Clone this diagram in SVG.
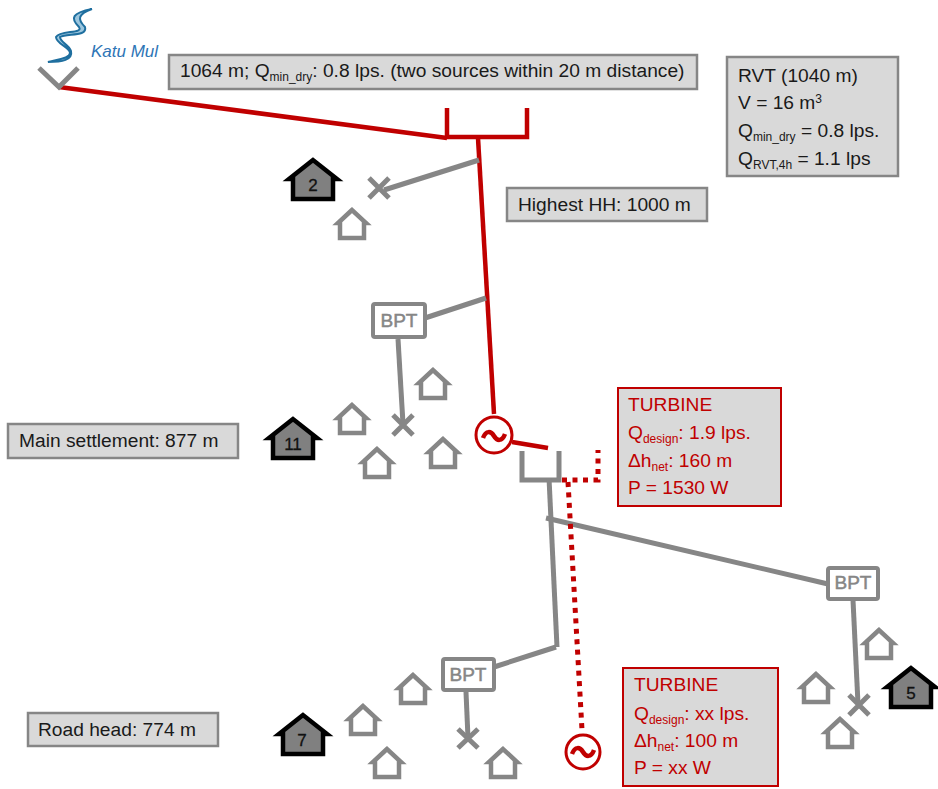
<svg xmlns="http://www.w3.org/2000/svg" width="938" height="789" viewBox="0 0 938 789">
<style>
text{font-family:"Liberation Sans",Arial,sans-serif;font-size:19.2px;fill:#1a1a1a}
.box{fill:#d9d9d9;stroke:#868686;stroke-width:2.5}
.rbox{fill:#d9d9d9;stroke:#c00000;stroke-width:2}
.red text,.red tspan{fill:#c00000}
.s{font-size:12px}
.r{fill:none;stroke:#c00000;stroke-width:4.5}
.rd{fill:none;stroke:#c00000;stroke-width:5;stroke-dasharray:5 5.5}
.g{fill:none;stroke:#868686;stroke-width:5}
.h{fill:#fff;stroke:#868686;stroke-width:4.5}
.d{fill:#808080;stroke:#000;stroke-width:4.5}
.num{font-size:17px;text-anchor:middle;fill:#111;stroke:#111;stroke-width:.3}
.bpt{fill:#fff;stroke:#868686;stroke-width:4}
.bt{font-size:19px;fill:#868686;stroke:#868686;stroke-width:.5;text-anchor:middle}
.gen{fill:#fff;stroke:#c00000;stroke-width:3}
</style>
<defs>
<path id="house" d="M0,3 L-14,16 H-12 V31 H12 V16 H14 Z"/>
<path id="dark" d="M0,3 L-24,22 H-20 V42 H20 V22 H24 Z"/>
<path id="wave" d="M-11,2 C-8,-6 -3,-5 0,0 C3,5 8,6 11,-2"/>
</defs>
<g id="connectors">
<path class="r" d="M59,87 L447,138"/>
<path class="r" d="M447,108 V137 H527 V108"/>
<path class="r" d="M478,138 L494,414"/>
<path class="r" d="M512,442 L548,448"/>
<path class="g" d="M479,160 L384,190"/>
<path class="g" d="M486,298 L425,318"/>
<path class="g" d="M398,339 L403,424"/>
<path class="g" d="M522,451 V480 H559 V451"/>
<path class="g" d="M549,478 L557,647"/>
<path class="g" d="M546,518 L828,584"/>
<path class="g" d="M556,647 L494,667"/>
<path class="g" d="M466,692 L468,738"/>
<path class="g" d="M853,600 L858,704"/>
<path class="rd" d="M562,480 H598 V450"/>
<path class="rd" d="M568,482 L582,730"/>
</g>
<g id="intake"><path d="M39,68 L59,87 L78,68" fill="none" stroke="#868686" stroke-width="5"/></g>
<g id="river"><path d="M92,9 C72,13 70,18 79,27 C84,34 60,30 56,37 C56,44 70,47 70,53 C70,59 54,60 48,62 C62,62 73,60 71,51 C69,45 60,42 60,37 C66,33 88,37 85,27 C77,19 78,14 92,9 Z" fill="#9cc6de" stroke="#1f6f9f" stroke-width="2"/></g>
<g id="label-katu"><text x="91" y="57" style="font-style:italic;font-size:17px;fill:#2e75b6">Katu Mul</text></g>
<g id="label-source"><rect class="box" x="169" y="55" width="528" height="34"/><text x="180" y="77">1064 m; Q<tspan class="s" dy="4">min_dry</tspan><tspan dy="-4">:  0.8 lps. (two sources within 20 m distance)</tspan></text></g>
<g id="label-rvt"><rect class="box" x="727" y="57" width="171" height="119"/>
<text x="738" y="82">RVT (1040 m)</text>
<text x="738" y="109">V = 16 m<tspan font-size="12" dy="-6">3</tspan></text>
<text x="738" y="137">Q<tspan class="s" dy="4">min_dry</tspan><tspan dy="-4"> = 0.8 lps.</tspan></text>
<text x="738" y="165">Q<tspan class="s" dy="4">RVT,4h</tspan><tspan dy="-4"> = 1.1 lps</tspan></text></g>
<g id="label-hh"><rect class="box" x="507" y="188" width="200" height="33"/><text x="518" y="211">Highest HH: 1000 m</text></g>
<g id="label-main"><rect class="box" x="8" y="424" width="230" height="34"/><text x="19" y="447">Main settlement: 877 m</text></g>
<g id="label-road"><rect class="box" x="28" y="713" width="190" height="33"/><text x="38" y="736">Road head: 774 m</text></g>
<g id="turbine1" class="red"><rect class="rbox" x="618" y="388" width="163" height="118"/>
<text x="628" y="411">TURBINE</text>
<text x="628" y="439">Q<tspan class="s" dy="4">design</tspan><tspan dy="-4">:  1.9 lps.</tspan></text>
<text x="628" y="467">Δh<tspan class="s" dy="4">net</tspan><tspan dy="-4">: 160 m</tspan></text>
<text x="628" y="494">P = 1530 W</text></g>
<g id="turbine2" class="red"><rect class="rbox" x="623" y="668" width="155" height="118"/>
<text x="634" y="691">TURBINE</text>
<text x="634" y="720">Q<tspan class="s" dy="4">design</tspan><tspan dy="-4">:  xx lps.</tspan></text>
<text x="634" y="747">Δh<tspan class="s" dy="4">net</tspan><tspan dy="-4">: 100 m</tspan></text>
<text x="634" y="774">P = xx W</text></g>
<g id="gen1"><circle class="gen" cx="494" cy="435" r="18"/><use href="#wave" transform="translate(494,436)" class="r"/></g>
<g id="gen2"><circle class="gen" cx="583" cy="752" r="17"/><use href="#wave" transform="translate(583,752)" class="r"/></g>
<g id="bpt1"><rect class="bpt" x="373" y="304" width="52" height="33" rx="2"/><text class="bt" x="399" y="327">BPT</text></g>
<g id="bpt2"><rect class="bpt" x="443" y="659" width="51" height="31" rx="2"/><text class="bt" x="468" y="681">BPT</text></g>
<g id="bpt3"><rect class="bpt" x="828" y="568" width="50" height="31" rx="2"/><text class="bt" x="853" y="589">BPT</text></g>
<g id="x1"><path class="g" d="M369,178 L389,198 M389,178 L369,198"/></g>
<g id="x2"><path class="g" d="M393,415 L413,435 M413,415 L393,435"/></g>
<g id="x3"><path class="g" d="M458,729 L478,748 M478,729 L458,748"/></g>
<g id="x4"><path class="g" d="M849,695 L869,715 M869,695 L849,715"/></g>
<g id="h1"><use href="#house" class="h" x="352" y="207"/></g>
<g id="h2"><use href="#house" class="h" x="433" y="367"/></g>
<g id="h3"><use href="#house" class="h" x="352" y="402"/></g>
<g id="h4"><use href="#house" class="h" x="377" y="446"/></g>
<g id="h5"><use href="#house" class="h" x="443" y="436"/></g>
<g id="h6"><use href="#house" class="h" x="413" y="672"/></g>
<g id="h7"><use href="#house" class="h" x="363" y="703"/></g>
<g id="h8"><use href="#house" class="h" x="387" y="746"/></g>
<g id="h9"><use href="#house" class="h" x="503" y="746"/></g>
<g id="h10"><use href="#house" class="h" x="879" y="627"/></g>
<g id="h11"><use href="#house" class="h" x="816" y="671"/></g>
<g id="h12"><use href="#house" class="h" x="840" y="716"/></g>
<g id="d2"><use href="#dark" class="d" x="313" y="157"/><text class="num" x="313" y="191">2</text></g>
<g id="d11"><use href="#dark" class="d" x="293" y="416"/><text class="num" x="293" y="450">11</text></g>
<g id="d7"><use href="#dark" class="d" x="303" y="712"/><text class="num" x="302" y="746">7</text></g>
<g id="d5"><use href="#dark" class="d" x="911" y="665"/><text class="num" x="911" y="699">5</text></g>
</svg>
